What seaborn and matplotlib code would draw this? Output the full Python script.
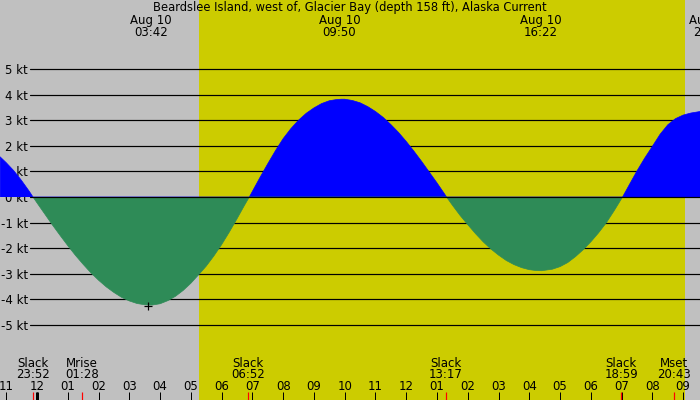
import numpy as np
import pandas as pd
import matplotlib
matplotlib.use("Agg")
import matplotlib.pyplot as plt
import matplotlib.transforms as mtransforms
import seaborn as sns

# ---------------- data ----------------
title = "Beardslee Island, west of, Glacier Bay (depth 158 ft), Alaska Current"

# hours relative to midnight of Aug 10, current speed in knots
hours = [-1.20, -1.0, -0.75, -0.5, -0.25, -0.13,
         0.0, 0.25, 0.5, 0.75, 1.0, 1.25, 1.5, 1.75, 2.0, 2.25, 2.5, 2.75, 3.0, 3.25, 3.5, 3.67,
         3.75, 4.0, 4.25, 4.5, 4.75, 5.0, 5.25, 5.5, 5.75, 6.0, 6.25, 6.5, 6.75, 6.90,
         7.0, 7.25, 7.5, 7.75, 8.0, 8.25, 8.5, 8.75, 9.0, 9.25, 9.5, 9.75, 9.9,
         10.0, 10.25, 10.5, 10.75, 11.0, 11.25, 11.5, 11.75, 12.0, 12.25, 12.5, 12.75, 13.0, 13.25, 13.31,
         13.5, 13.75, 14.0, 14.25, 14.5, 14.75, 15.0, 15.25, 15.5, 15.75, 16.0, 16.2, 16.4,
         16.75, 17.0, 17.25, 17.5, 17.75, 18.0, 18.25, 18.5, 18.75, 19.03,
         19.25, 19.5, 19.75, 20.0, 20.25, 20.5, 20.75, 21.0, 21.25, 21.55]
speed_kt = [1.57, 1.34, 1.02, 0.64, 0.22, 0.0,
            -0.23, -0.66, -1.09, -1.50, -1.90, -2.28, -2.63, -2.96, -3.25, -3.51, -3.73, -3.92, -4.06, -4.16, -4.21, -4.22,
            -4.22, -4.17, -4.05, -3.88, -3.65, -3.37, -3.04, -2.70, -2.30, -1.86, -1.37, -0.85, -0.31, 0.0,
            0.22, 0.77, 1.30, 1.81, 2.28, 2.67, 3.00, 3.27, 3.48, 3.65, 3.76, 3.81, 3.82,
            3.82, 3.77, 3.68, 3.53, 3.34, 3.11, 2.83, 2.52, 2.17, 1.79, 1.39, 0.97, 0.55, 0.11, 0.0,
            -0.32, -0.72, -1.08, -1.43, -1.75, -2.03, -2.27, -2.48, -2.64, -2.76, -2.84, -2.87, -2.88,
            -2.82, -2.72, -2.56, -2.33, -2.06, -1.75, -1.40, -1.01, -0.55, 0.0,
            0.48, 1.02, 1.52, 1.98, 2.45, 2.82, 3.06, 3.20, 3.28, 3.34]

y_levels = [-5, -4, -3, -2, -1, 0, 1, 2, 3, 4, 5]
y_labels = [f"{v} kt" for v in y_levels]

tick_hours = list(range(-1, 22))
tick_labels = ["11", "12", "01", "02", "03", "04", "05", "06", "07", "08", "09", "10",
               "11", "12", "01", "02", "03", "04", "05", "06", "07", "08", "09"]

sunrise_h = 5.265
sunset_h = 21.06

event_names = ["Slack", "Mrise", "Slack", "Slack", "Slack", "Mset"]
event_times = ["23:52", "01:28", "06:52", "13:17", "18:59", "20:43"]
event_hours = [-0.133, 1.467, 6.867, 13.283, 18.983, 20.717]

peak_dates = ["Aug 10", "Aug 10", "Aug 10", "Aug 10"]
peak_times = ["03:42", "09:50", "16:22", "21:52"]
peak_hours = [3.70, 9.833, 16.367, 21.867]

marker_hour = [3.6]
marker_speed = [-4.24]

# ---------------- style ----------------
sns.set_style("white")
plt.rcParams['font.family'] = ['DejaVu Sans']
plt.rcParams['text.color'] = 'black'
plt.rcParams['xtick.color'] = 'black'
plt.rcParams['ytick.color'] = 'black'
FS = 8.5
GRAY = "#C0C0C0"
YELLOW = "#CCCC00"
BLUE = "#0000FF"
GREEN = "#2E8B57"
PX = 0.72  # points per pixel at 100 dpi

df = pd.DataFrame({"hour": hours, "speed": speed_kt})
df["pos"] = df["speed"].where(df["speed"] >= 0)
df["neg"] = df["speed"].where(df["speed"] <= 0)

fig = plt.figure(figsize=(7, 4), dpi=100)
fig.patch.set_facecolor(GRAY)
ax = fig.add_axes([0, 0, 1, 1])
ax.set_facecolor(GRAY)
for s in ax.spines.values():
    s.set_visible(False)

ppkt = 25.6
pph = 30.77
ax.set_xlim(-37 / pph, 663 / pph)
ax.set_ylim(-(400 - 197) / ppkt, 197 / ppkt)

ax.axvspan(sunrise_h, sunset_h, color=YELLOW, zorder=0, lw=0)

for v in y_levels:
    ax.axhline(v, xmin=30 / 700, xmax=1, color="black", lw=1.2 * PX,
               zorder=4 if v == 0 else 1)

h = np.array(hours)
s = np.array(speed_kt)
ax.fill_between(h, s, 0, where=s >= 0, interpolate=True, color=BLUE, lw=0, zorder=2)
ax.fill_between(h, s, 0, where=s <= 0, interpolate=True, color=GREEN, lw=0, zorder=2)
sns.lineplot(data=df, x="hour", y="pos", color=BLUE, lw=0.5, ax=ax, zorder=3)
sns.lineplot(data=df, x="hour", y="neg", color=GREEN, lw=0.5, ax=ax, zorder=3)

ax.plot(marker_hour, marker_speed, marker="+", ms=8.7 * PX, mew=1.2 * PX,
        color="black", ls="none", zorder=5)

# axes ticks
ax.set_yticks(y_levels)
ax.set_yticklabels(y_labels)
ax.tick_params(axis="y", left=True, direction="in", length=0, pad=-28 * PX, labelsize=FS,
               colors="black", labelcolor="black")
ax.set_xticks(tick_hours)
ax.set_xticklabels(tick_labels)
ax.tick_params(axis="x", bottom=True, direction="in", length=8 * PX, width=1.0 * PX,
               pad=-10.5 * PX, labelsize=FS, colors="black", labelcolor="black")
for t in ax.get_xticklabels():
    t.set_va("baseline")
for t in ax.get_yticklabels():
    t.set_ha("right")
ax.set_xlabel("")
ax.set_ylabel("")

trans = mtransforms.blended_transform_factory(ax.transData, ax.transAxes)

def yf(px):
    return 1 - px / 400.0

# event marks at bottom
ax.vlines(event_hours, yf(400), yf(392), color="red", lw=1.2 * PX, transform=trans, zorder=6)
ax.vlines([0.0], yf(400), yf(392), color="black", lw=3 * PX, transform=trans, zorder=6)

for name, tm, eh in zip(event_names, event_times, event_hours):
    ax.text(eh, yf(366.7), name, transform=trans, ha="center", va="baseline", fontsize=FS,
            color="black")
    ax.text(eh, yf(378.3), tm, transform=trans, ha="center", va="baseline", fontsize=FS,
            color="black")

for d, tm, ph in zip(peak_dates, peak_times, peak_hours):
    ax.text(ph, yf(24.3), d, transform=trans, ha="center", va="baseline", fontsize=FS,
            color="black", clip_on=False)
    ax.text(ph, yf(36.0), tm, transform=trans, ha="center", va="baseline", fontsize=FS,
            color="black", clip_on=False)

ax.text(0.5, yf(11.5), title, transform=ax.transAxes, ha="center", va="baseline",
        fontsize=8.3, color="black")

fig.savefig("out.png", dpi=100, facecolor=GRAY)
